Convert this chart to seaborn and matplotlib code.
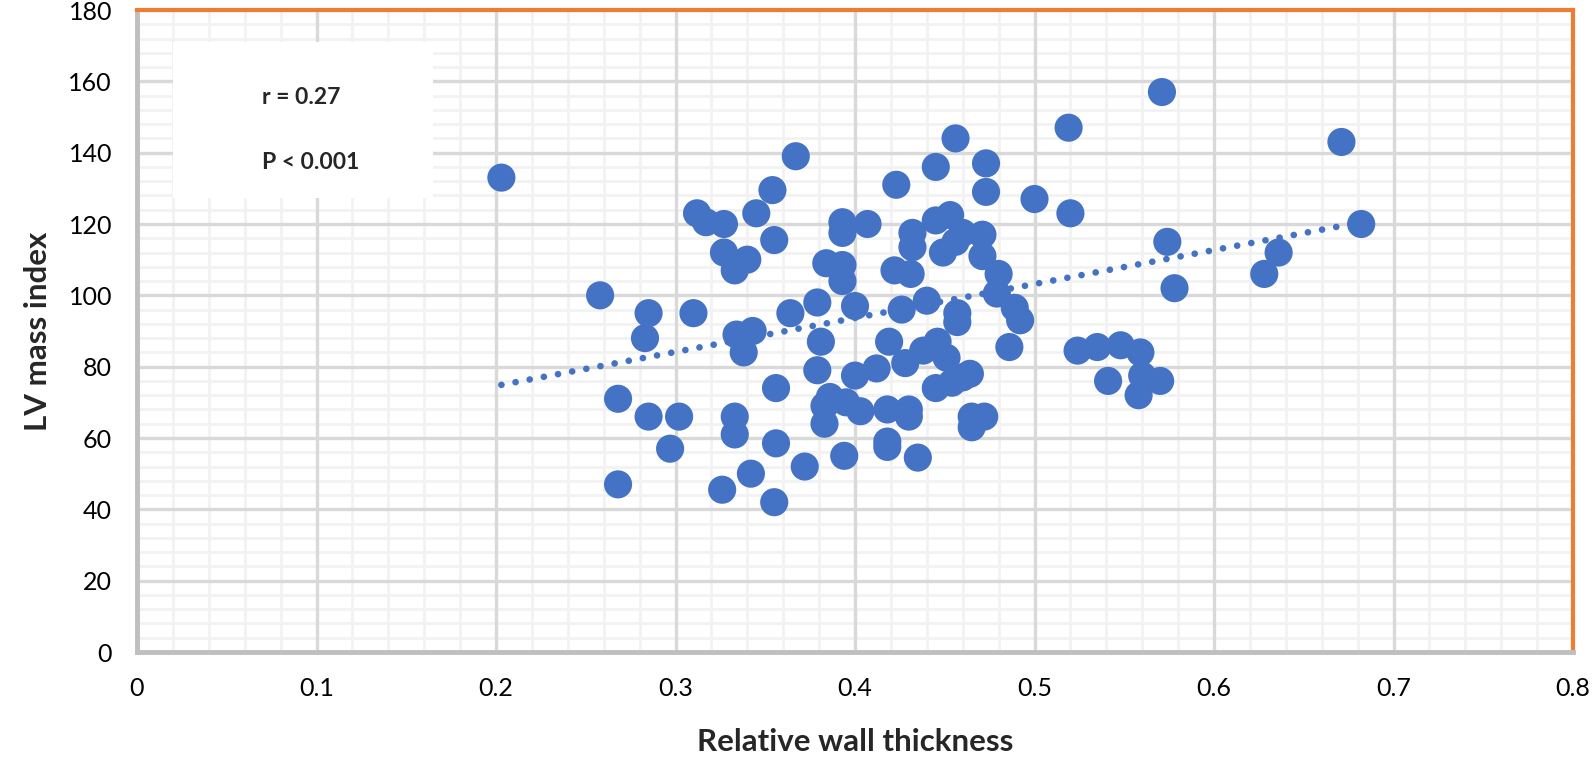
import matplotlib
matplotlib.use('Agg')
import matplotlib.pyplot as plt
import matplotlib.patches as mpatches
from matplotlib.ticker import MultipleLocator
import seaborn as sns
import pandas as pd

# Relative wall thickness vs LV mass index
rwt = [0.203, 0.258, 0.268, 0.268, 0.283, 0.285, 0.285, 0.297, 0.302, 0.310,
       0.312, 0.317, 0.327, 0.327, 0.326, 0.333, 0.334, 0.333, 0.333, 0.338,
       0.340, 0.342, 0.343, 0.345, 0.354, 0.355, 0.356, 0.356, 0.355, 0.364,
       0.367, 0.372, 0.379, 0.381, 0.379, 0.384, 0.386, 0.383, 0.383, 0.393,
       0.393, 0.393, 0.393, 0.395, 0.394, 0.400, 0.400, 0.403, 0.407, 0.412,
       0.419, 0.418, 0.418, 0.418, 0.423, 0.422, 0.426, 0.431, 0.428, 0.432,
       0.432, 0.430, 0.430, 0.435, 0.438, 0.440, 0.445, 0.445, 0.446, 0.445,
       0.449, 0.451, 0.453, 0.454, 0.456, 0.457, 0.456, 0.457, 0.460, 0.460,
       0.464, 0.465, 0.465, 0.471, 0.471, 0.473, 0.473, 0.472, 0.479, 0.480,
       0.486, 0.489, 0.492, 0.500, 0.519, 0.520, 0.524, 0.535, 0.541, 0.548,
       0.559, 0.558, 0.560, 0.570, 0.571, 0.574, 0.578, 0.628, 0.636, 0.671,
       0.682]
lv_mass = [133, 100, 71, 47, 88, 95, 66, 57, 66, 95,
           123, 120.5, 120, 112, 45.5, 107, 89, 66, 61, 84,
           110, 50, 90, 123, 129.5, 115.5, 74, 58.5, 42, 95,
           139, 52, 98, 87, 79, 109, 71.5, 69, 64, 120.5,
           117.5, 108.5, 104, 70, 55, 97, 77.5, 67.5, 120, 79.5,
           87, 68, 59, 57.5, 131, 107, 96, 106, 81, 117.5,
           113.5, 68, 66, 54.5, 84.5, 98.5, 121, 136, 87, 74,
           112, 82.5, 122.5, 75.5, 115, 95, 144, 92.5, 117.5, 77,
           78, 66, 63, 117, 111, 137, 129, 66, 100.5, 106,
           85.5, 96.5, 93, 127, 147, 123, 84.5, 85.5, 76, 86,
           84, 72, 77.5, 76, 157, 115, 102, 106, 112, 143,
           120]

# linear trendline as shown on the chart (start / end of the dotted line)
trend_x = [0.203, 0.682]
trend_y = [74.9, 120.5]

x_ticks = [0, 0.1, 0.2, 0.3, 0.4, 0.5, 0.6, 0.7, 0.8]
x_tick_labels = ['0', '0.1', '0.2', '0.3', '0.4', '0.5', '0.6', '0.7', '0.8']
y_ticks = [0, 20, 40, 60, 80, 100, 120, 140, 160, 180]

df = pd.DataFrame({'rwt': rwt, 'lvmi': lv_mass})
trend = pd.DataFrame({'rwt': trend_x, 'lvmi': trend_y})

sns.set_style('white')
plt.rcParams['font.family'] = ['Lato', 'DejaVu Sans']

blue = '#4472C4'
orange = '#ED7D31'
axis_gray = '#BFBFBF'

fig = plt.figure(figsize=(15.93, 7.63), dpi=100)
ax = fig.add_axes([137 / 1593, 1 - 652 / 763, 1436 / 1593, 642 / 763])

# points
sns.scatterplot(data=df, x='rwt', y='lvmi', color=blue, s=410,
                edgecolor='none', linewidth=0, ax=ax, zorder=3)

# trendline (dotted)
sns.lineplot(data=trend, x='rwt', y='lvmi', color=blue, ax=ax,
             linewidth=4.8, linestyle=(0, (0.01, 2.15)),
             dash_capstyle='round', zorder=4)

ax.set_xlim(0, 0.8)
ax.set_ylim(0, 180)
ax.set_xticks(x_ticks)
ax.set_xticklabels(x_tick_labels)
ax.set_yticks(y_ticks)
ax.xaxis.set_minor_locator(MultipleLocator(0.02))
ax.yaxis.set_minor_locator(MultipleLocator(4))

# minor grid below the major grid
ax.vlines(ax.xaxis.get_minorticklocs(), 0, 1, transform=ax.get_xaxis_transform(),
          colors='#F2F2F2', linewidth=2.0, zorder=0.1)
ax.hlines(ax.yaxis.get_minorticklocs(), 0, 1, transform=ax.get_yaxis_transform(),
          colors='#F2F2F2', linewidth=2.0, zorder=0.1)
ax.set_axisbelow(True)
ax.grid(which='major', color='#D9D9D9', linewidth=2.4, linestyle='-')

# spines
for side in ['top', 'right']:
    ax.spines[side].set_color(orange)
    ax.spines[side].set_linewidth(3)
for side in ['left', 'bottom']:
    ax.spines[side].set_color(axis_gray)
    ax.spines[side].set_linewidth(3.5)

ax.tick_params(which='major', direction='out', length=9, width=3.5,
               color=axis_gray, labelsize=18, labelcolor='black')
ax.tick_params(which='major', axis='y', pad=9)
ax.tick_params(which='major', axis='x', pad=9)
ax.tick_params(which='minor', length=0)

# labels
ax.set_xlabel('Relative wall thickness', fontsize=22.5, fontweight='bold',
              labelpad=20)
ax.set_ylabel('LV mass index', fontsize=22.5, fontweight='bold', labelpad=12)
ax.get_legend() and ax.get_legend().remove()

# stats box
box = mpatches.Rectangle((0.025, 0.707), 0.181, 0.243, transform=ax.transAxes,
                         facecolor='white', edgecolor='none', zorder=1.5)
ax.add_patch(box)
ax.text(0.087, 0.863, 'r = 0.27', transform=ax.transAxes, fontsize=16.5,
        fontweight='bold', va='center', ha='left', zorder=2)
ax.text(0.087, 0.762, 'P < 0.001', transform=ax.transAxes, fontsize=16.5,
        fontweight='bold', va='center', ha='left', zorder=2)

fig.savefig('out.png', dpi=100)
plt.close(fig)
